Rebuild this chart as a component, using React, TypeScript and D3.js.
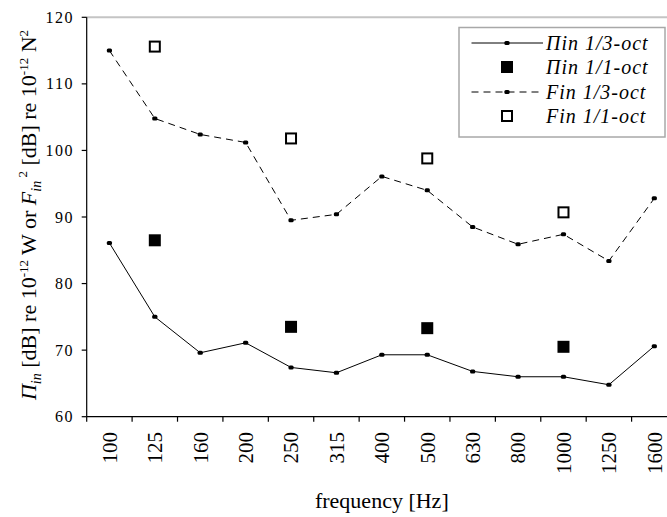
import * as React from 'react';
import * as d3 from 'd3';

// 1/3-octave bands on the category axis
const freqs = ['100', '125', '160', '200', '250', '315', '400', '500', '630', '800', '1000', '1250', '1600'];
const piThird = [86.1, 75.0, 69.6, 71.1, 67.4, 66.6, 69.3, 69.3, 66.8, 66.0, 66.0, 64.8, 70.6];
const fThird = [115.0, 104.8, 102.4, 101.2, 89.5, 90.4, 96.1, 94.0, 88.5, 85.9, 87.4, 83.4, 92.8];

// 1/1-octave values sit on their centre band
const octFreqs = ['125', '250', '500', '1000'];
const piOct = [86.5, 73.5, 73.3, 70.5];
const fOct = [115.6, 101.8, 98.8, 90.7];

const yTicks = [60, 70, 80, 90, 100, 110, 120];
const legendLabels = ['Πin 1/3-oct', 'Πin 1/1-oct', 'Fin 1/3-oct', 'Fin 1/1-oct'];

const serif = "'Liberation Serif', 'Times New Roman', 'DejaVu Serif', serif";

export default function App() {
  const W = 667, H = 517;
  const left = 86.7, right = 677, top = 17.3, bottom = 416.7;

  const x = d3.scaleBand<string>().domain(freqs).range([left, right]).paddingInner(0).paddingOuter(0);
  const y = d3.scaleLinear().domain([60, 120]).range([bottom, top]);
  const cx = (f: string) => (x(f) as number) + x.bandwidth() / 2;

  const line = d3.line<number>()
    .x((_, i) => cx(freqs[i]))
    .y(v => y(v));

  const smallMarker = (px: number, py: number, key: string | number) => (
    <rect key={key} x={px - 2.6} y={py - 2} width={5.2} height={4} rx={1.5} fill="#000" />
  );

  const boundaries = freqs.map(f => x(f) as number).concat([right]);

  const legX = 459, legY = 27.5, legW = 206, legH = 109.5;
  const rowY = [43, 67, 92, 116];
  const symX = 507;

  return (
    <svg width={W} height={H} style={{ position: 'absolute', left: 0, top: 0, background: '#fff', fontFamily: serif }}>
      <rect x={0} y={0} width={W} height={H} fill="#fff" />

      {/* plot frame (top edge only is visible) */}
      <line x1={left} x2={right} y1={top} y2={top} stroke="#c4c4c4" strokeWidth={2} />
      <line x1={right} x2={right} y1={top} y2={bottom} stroke="#c4c4c4" strokeWidth={2} />

      {/* y axis */}
      <line x1={left} x2={left} y1={top} y2={bottom} stroke="#000" strokeWidth={1.2} />
      {yTicks.map(t => (
        <g key={t}>
          <line x1={left - 5} x2={left} y1={y(t)} y2={y(t)} stroke="#000" strokeWidth={1.2} />
          <text x={74} y={y(t)} dy="0.35em" textAnchor="end" fontSize={16} letterSpacing={1.5}>{t}</text>
        </g>
      ))}

      {/* x axis */}
      <line x1={left} x2={right} y1={bottom} y2={bottom} stroke="#000" strokeWidth={1.2} />
      {boundaries.map((b, i) => (
        <line key={i} x1={b} x2={b} y1={bottom} y2={bottom + 5} stroke="#000" strokeWidth={1.2} />
      ))}
      {freqs.map(f => (
        <text key={f} transform={`translate(${cx(f)},432) rotate(-90)`} dy="0.35em" textAnchor="end"
              fontSize={21}>{f}</text>
      ))}

      {/* axis titles */}
      <text x={(left + right) / 2} y={508} textAnchor="middle" fontSize={22}>frequency [Hz]</text>
      <text transform={`translate(36,${(top + bottom) / 2 - 2}) rotate(-90)`} textAnchor="middle" fontSize={22}>
        <tspan fontStyle="italic">Π</tspan>
        <tspan fontStyle="italic" fontSize={14} dy={5}>in</tspan>
        <tspan dy={-5}> [dB] re 10</tspan>
        <tspan fontSize={13} dy={-8}>-12</tspan>
        <tspan dy={8}> W or </tspan>
        <tspan fontStyle="italic">F</tspan>
        <tspan fontStyle="italic" fontSize={14} dy={5}>in</tspan>
        <tspan fontSize={13} dy={-14}> 2</tspan>
        <tspan dy={9}> [dB] re 10</tspan>
        <tspan fontSize={13} dy={-8}>-12</tspan>
        <tspan dy={8}> N</tspan>
        <tspan fontSize={13} dy={-8}>2</tspan>
      </text>

      {/* 1/3-octave lines */}
      <path d={line(fThird) ?? ''} fill="none" stroke="#000" strokeWidth={1} strokeDasharray="7,5" />
      <path d={line(piThird) ?? ''} fill="none" stroke="#000" strokeWidth={1} />
      {fThird.map((v, i) => smallMarker(cx(freqs[i]), y(v), 'f' + i))}
      {piThird.map((v, i) => smallMarker(cx(freqs[i]), y(v), 'p' + i))}

      {/* 1/1-octave squares */}
      {piOct.map((v, i) => (
        <rect key={'po' + i} x={cx(octFreqs[i]) - 6} y={y(v) - 6} width={12} height={12} fill="#000" />
      ))}
      {fOct.map((v, i) => (
        <rect key={'fo' + i} x={cx(octFreqs[i]) - 5} y={y(v) - 5} width={10} height={10}
              fill="#fff" stroke="#000" strokeWidth={2} />
      ))}

      {/* legend */}
      <rect x={legX} y={legY} width={legW} height={legH} fill="#fff" stroke="#a8a8a8" strokeWidth={1.5} />
      <line x1={471.5} x2={543} y1={rowY[0]} y2={rowY[0]} stroke="#000" strokeWidth={1} />
      {smallMarker(symX, rowY[0], 'l0')}
      <rect x={symX - 6} y={rowY[1] - 6} width={12} height={12} fill="#000" />
      <line x1={471.5} x2={543} y1={rowY[2]} y2={rowY[2]} stroke="#000" strokeWidth={1} strokeDasharray="7,5" />
      {smallMarker(symX, rowY[2], 'l2')}
      <rect x={symX - 5} y={rowY[3] - 5} width={10} height={10} fill="#fff" stroke="#000" strokeWidth={2} />
      {legendLabels.map((l, i) => (
        <text key={l} x={546} y={rowY[i]} dy="0.35em" fontSize={20} fontStyle="italic" letterSpacing={1}>{l}</text>
      ))}
    </svg>
  );
}
